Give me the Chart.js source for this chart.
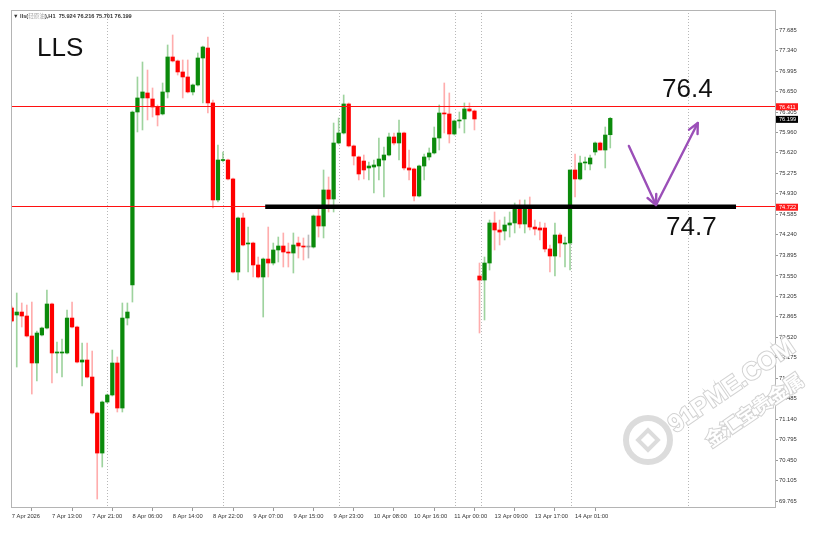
<!DOCTYPE html>
<html><head><meta charset="utf-8">
<script src="https://cdn.jsdelivr.net/npm/chart.js@4.4.1/dist/chart.umd.min.js"></script>
<style>html,body{margin:0;padding:0;background:#fff;overflow:hidden}canvas{display:block}</style>
</head><body>
<canvas id="c" width="822" height="534" style="width:822px;height:534px"></canvas>
<script>
// ---- DATA (LLS, H1) ----
const opens = [73.011,72.893,72.943,72.876,72.540,72.086,72.557,72.674,73.078,72.254,72.254,72.254,72.842,72.691,72.102,72.136,71.850,71.245,70.572,71.430,71.548,72.086,71.329,72.842,73.397,76.306,76.542,76.626,76.525,76.390,76.273,76.643,77.231,77.164,76.979,76.895,76.643,76.760,77.214,77.382,76.458,74.827,75.490,75.499,75.180,73.616,74.524,74.087,74.103,73.734,73.532,73.834,73.767,73.986,74.053,73.952,73.935,74.103,74.053,74.036,74.036,74.558,74.389,74.995,74.843,75.785,75.953,76.441,75.735,75.550,75.482,75.365,75.381,75.398,75.499,75.583,75.886,75.785,75.953,75.365,75.348,74.894,75.398,75.550,75.617,75.869,76.289,76.273,75.936,76.155,76.189,76.357,76.323,73.549,73.481,73.767,74.440,74.322,74.305,74.406,74.440,74.675,74.423,74.675,74.372,74.356,74.356,74.003,73.885,74.238,74.087,74.103,75.331,75.180,75.449,75.432,75.634,75.785,75.667,75.924];
const highs = [73.044,73.263,73.095,73.061,73.111,72.624,72.691,73.313,73.095,72.439,72.489,72.977,73.111,72.708,72.422,72.422,72.287,71.262,71.447,71.564,72.304,72.187,73.095,73.095,76.323,76.895,77.147,77.012,76.710,76.424,76.794,77.433,77.601,77.181,77.181,77.181,76.777,77.298,77.416,77.567,76.508,75.751,75.634,75.516,75.196,74.541,74.608,74.372,74.120,73.868,73.851,74.372,74.103,74.204,74.272,74.103,74.272,74.204,74.188,74.238,74.574,74.709,75.331,75.213,76.121,76.205,76.592,76.458,75.751,75.566,75.583,75.466,75.499,75.869,75.718,75.953,75.953,76.172,75.970,75.667,75.365,75.415,75.600,75.701,76.054,76.424,76.794,76.626,76.172,76.306,76.458,76.458,76.340,73.767,73.868,74.490,74.625,74.490,74.541,74.625,74.776,74.827,74.827,74.877,74.490,74.457,74.440,74.070,74.440,74.272,74.204,75.331,75.600,75.566,75.550,75.583,75.802,75.802,76.054,76.216];
const lows = [72.775,72.018,72.691,72.523,71.564,71.783,72.540,72.657,71.749,71.918,71.850,72.237,72.674,72.086,71.699,71.833,71.228,69.799,70.337,71.413,71.531,71.262,71.262,72.725,73.111,75.970,76.004,76.172,76.222,76.071,76.256,76.542,77.147,76.928,76.542,76.626,76.592,76.743,76.458,76.289,74.692,74.793,75.466,75.163,73.599,73.481,74.053,73.616,73.532,73.515,72.859,73.532,73.734,73.784,73.700,73.700,73.599,73.851,73.818,73.851,74.019,74.204,74.188,74.625,74.625,75.768,75.936,75.718,75.415,75.163,75.180,75.163,74.944,75.163,74.877,75.566,75.751,75.499,75.331,75.163,74.810,74.877,75.163,75.499,75.600,75.667,75.953,75.785,75.919,76.037,75.953,76.306,76.004,72.590,72.809,73.649,73.986,74.070,74.154,74.204,74.272,74.356,74.272,74.322,74.238,74.154,73.952,73.616,73.549,73.868,73.700,73.649,74.877,75.163,75.331,75.331,75.583,75.667,75.365,75.701];
const closes = [72.792,72.943,72.876,72.540,72.086,72.590,72.674,73.078,72.254,72.271,72.271,72.842,72.691,72.102,72.136,71.850,71.245,70.572,71.430,71.548,72.086,71.329,72.842,72.943,76.306,76.542,76.643,76.542,76.390,76.256,76.643,77.231,77.164,76.979,76.895,76.643,76.760,77.214,77.399,76.458,74.827,75.499,75.505,75.180,73.616,74.524,74.070,74.103,73.734,73.532,73.834,73.767,73.986,74.053,73.952,73.935,74.070,74.053,74.036,74.036,74.558,74.389,74.995,74.843,75.785,75.953,76.441,75.735,75.566,75.264,75.331,75.398,75.415,75.516,75.583,75.886,75.785,75.953,75.365,75.331,74.894,75.398,75.550,75.617,75.869,76.289,76.273,75.936,76.155,76.172,76.357,76.323,76.189,73.481,73.767,74.440,74.322,74.288,74.406,74.440,74.675,74.423,74.675,74.372,74.339,74.322,74.003,73.885,74.238,74.103,74.103,75.331,75.180,75.449,75.466,75.533,75.785,75.667,75.919,76.199];

const xTickBars = [0,8,16,24,32,40,48,56,64,72,80,88,96,104,112];
const xTickLabels = ["7 Apr 2026","7 Apr 13:00","7 Apr 21:00","8 Apr 06:00","8 Apr 14:00","8 Apr 22:00","9 Apr 07:00","9 Apr 15:00","9 Apr 23:00","10 Apr 08:00","10 Apr 16:00","11 Apr 00:00","13 Apr 09:00","13 Apr 17:00","14 Apr 01:00"];
const yTickValues = [77.685,77.340,76.995,76.650,76.305,75.960,75.620,75.275,74.930,74.585,74.240,73.895,73.550,73.205,72.865,72.520,72.175,71.830,71.485,71.140,70.795,70.450,70.105,69.765];
const yTickLabels = ["77.685","77.340","76.995","76.650","76.305","75.960","75.620","75.275","74.930","74.585","74.240","73.895","73.550","73.205","72.865","72.520","72.175","71.830","71.485","71.140","70.795","70.450","70.105","69.765"];

const levels = [76.411, 74.722];
const levelLabels = ["76.411", "74.722"];
const lastPrice = 76.199;
const lastPriceLabel = "76.199";
const separators = [18.95, 42, 65.1, 88.15, 93.3, 111.2, 134.5];
const supportLine = [50.4, 144, 74.722];
const arrowPath = [[122.7, 75.735], [128.1, 74.742], [136.4, 76.121]];
const targetTexts = ["76.4", "74.7"];
const titleText = "LLS";
const headerParts = ["\u25BC lls(", "\u8F7B\u539F\u6CB9", "),H1  75.924 76.216 75.701 76.199"];

// ---- BUILD ----
const UP = '#0b8a0b', DN = '#ff0000', FLAT = '#9a9a9a';
const WUP = 'rgba(0,140,0,0.38)', WDN = 'rgba(255,0,0,0.32)', WFLAT = 'rgba(120,120,120,0.5)';
const dir = closes.map((c,i)=> c>opens[i] ? 1 : (c<opens[i] ? -1 : 0));
const wickData = highs.map((h,i)=>({x:i, y:[lows[i], h]}));
const bodyData = opens.map((o,i)=>({x:i, y:[Math.min(o,closes[i]), Math.max(o,closes[i])]}));

const overlay = {
  id:'overlay',
  beforeDatasetsDraw(chart){
    const {ctx, chartArea:a, scales:{x}} = chart;
    ctx.save();
    ctx.strokeStyle = '#b8b8b8'; ctx.lineWidth = 1; ctx.setLineDash([1,2]);
    separators.forEach(s=>{
      const px = Math.round(x.getPixelForValue(s)) + 0.5;
      ctx.beginPath(); ctx.moveTo(px, a.top); ctx.lineTo(px, a.bottom); ctx.stroke();
    });
    ctx.restore();
  },
  afterDatasetsDraw(chart){
    const {ctx, chartArea:a, scales:{x,y}} = chart;
    ctx.save();
    // red horizontal levels
    ctx.strokeStyle = '#ff1010'; ctx.lineWidth = 1;
    levels.forEach(l=>{
      const py = Math.round(y.getPixelForValue(l)) + 0.5;
      ctx.beginPath(); ctx.moveTo(a.left, py); ctx.lineTo(a.right, py); ctx.stroke();
    });
    // black support line
    const sy = y.getPixelForValue(supportLine[2]) + 0.5;
    ctx.strokeStyle = '#000'; ctx.lineWidth = 4.5;
    ctx.beginPath(); ctx.moveTo(x.getPixelForValue(supportLine[0]), sy); ctx.lineTo(x.getPixelForValue(supportLine[1]), sy); ctx.stroke();
    // purple arrows
    const pts = arrowPath.map(p=>[x.getPixelForValue(p[0]), y.getPixelForValue(p[1])]);
    ctx.strokeStyle = '#9b4fb8'; ctx.lineWidth = 2.4; ctx.lineCap = 'round'; ctx.lineJoin = 'round';
    ctx.beginPath(); ctx.moveTo(pts[0][0], pts[0][1]); ctx.lineTo(pts[1][0], pts[1][1]); ctx.lineTo(pts[2][0], pts[2][1]); ctx.stroke();
    const head = (p0, p1) => {
      const ang = Math.atan2(p1[1]-p0[1], p1[0]-p0[0]);
      const L = 11, w = 0.45;
      ctx.beginPath();
      ctx.moveTo(p1[0] - L*Math.cos(ang-w), p1[1] - L*Math.sin(ang-w));
      ctx.lineTo(p1[0], p1[1]);
      ctx.lineTo(p1[0] - L*Math.cos(ang+w), p1[1] - L*Math.sin(ang+w));
      ctx.stroke();
    };
    head(pts[0], pts[1]); head(pts[1], pts[2]);
    // texts
    ctx.fillStyle = '#111';
    ctx.font = '26px "Liberation Sans", Arial, sans-serif';
    ctx.textBaseline = 'alphabetic'; ctx.textAlign = 'left';
    ctx.fillText(titleText, 37, 56);
    const y1 = y.getPixelForValue(levels[0]);
    const y2 = y.getPixelForValue(levels[1]);
    ctx.fillText(targetTexts[0], 662, y1 - 9);
    ctx.fillText(targetTexts[1], 666, y2 + 29);
    ctx.restore();
  },
  afterDraw(chart){
    const {ctx, chartArea:a, scales:{y}} = chart;
    ctx.save();
    // frame
    ctx.strokeStyle = '#b4b4b4'; ctx.lineWidth = 1;
    ctx.strokeRect(a.left + 0.5, a.top + 0.5, a.right - a.left, a.bottom - a.top - 1);
    // price boxes on axis
    ctx.font = '5.6px "Liberation Sans", Arial, sans-serif';
    ctx.textBaseline = 'middle'; ctx.textAlign = 'left';
    const box = (val, txt, bg) => {
      const py = y.getPixelForValue(val) + 1;
      ctx.fillStyle = bg; ctx.fillRect(a.right + 1, py - 3.5, 22, 7);
      ctx.fillStyle = '#fff'; ctx.fillText(txt, a.right + 4, py + 0.3);
    };
    box(levels[0], levelLabels[0], '#ff1a1a');
    box(levels[1], levelLabels[1], '#ff1a1a');
    box(lastPrice, lastPriceLabel, '#000');
    // header
    ctx.font = 'bold 5.6px "Liberation Sans", Arial, sans-serif';
    ctx.textBaseline = 'alphabetic';
    let hx = 13;
    const hy = 17.5;
    ctx.fillStyle = '#333'; ctx.fillText(headerParts[0], hx, hy); hx += ctx.measureText(headerParts[0]).width;
    ctx.font = '5.6px "Noto Sans CJK SC", sans-serif';
    ctx.fillStyle = '#a8a8a8'; ctx.fillText(headerParts[1], hx, hy); hx += ctx.measureText(headerParts[1]).width;
    ctx.font = 'bold 5.6px "Liberation Sans", Arial, sans-serif';
    ctx.fillStyle = '#333'; ctx.fillText(headerParts[2], hx, hy);
    // watermark (white letters with soft gray outline)
    ctx.strokeStyle = '#dcdcdc'; ctx.lineWidth = 6;
    ctx.beginPath(); ctx.arc(648, 440, 22, 0, Math.PI*2); ctx.stroke();
    ctx.save(); ctx.translate(648, 440); ctx.rotate(Math.PI/4);
    ctx.lineWidth = 4; ctx.strokeRect(-7, -7, 14, 14); ctx.restore();
    ctx.save(); ctx.translate(736, 392); ctx.rotate(-0.6);
    ctx.fillStyle = '#ffffff'; ctx.strokeStyle = '#d2d2d2'; ctx.lineWidth = 2;
    ctx.font = 'bold 25px "Liberation Sans", Arial, sans-serif';
    ctx.textAlign = 'center';
    ctx.strokeText('91PME.COM', 0, 0); ctx.fillText('91PME.COM', 0, 0);
    ctx.font = 'bold 19px "Noto Sans CJK SC", sans-serif';
    ctx.strokeText('\u91D1\u6C47\u5B9D\u8D35\u91D1\u5C5E', 5, 32); ctx.fillText('\u91D1\u6C47\u5B9D\u8D35\u91D1\u5C5E', 5, 32);
    ctx.restore();
    ctx.restore();
  }
};

new Chart(document.getElementById('c'), {
  type: 'bar',
  data: {
    datasets: [
      { label:'wick', data: wickData, grouped:false, barThickness:1, borderWidth:0,
        backgroundColor: dir.map(d=> d>0 ? WUP : (d<0 ? WDN : WFLAT)), order: 2 },
      { label:'body', data: bodyData, grouped:false, barThickness:3.6, borderWidth:0, minBarLength:1,
        backgroundColor: dir.map(d=> d>0 ? UP : (d<0 ? DN : FLAT)), order: 1 }
    ]
  },
  options: {
    responsive:false, animation:false, devicePixelRatio:1,
    layout:{ padding:{ left:11, top:10, right:0, bottom:0 } },
    plugins:{ legend:{display:false}, tooltip:{enabled:false} },
    scales:{
      x:{ type:'linear', min:-0.14, max:151.75, offset:false,
          grid:{ drawOnChartArea:false, drawTicks:true, tickLength:3, color:'#999' },
          border:{ display:false },
          afterBuildTicks(s){ s.ticks = xTickBars.map(v=>({value:v})); },
          afterFit(s){ s.height = 26; },
          ticks:{ autoSkip:false, maxRotation:0, minRotation:0, align:'start', padding:2,
                  color:'#333', font:{ family:'"Liberation Sans", Arial, sans-serif', size:5.8 },
                  callback:(v,i)=> xTickLabels[i] }
      },
      y:{ type:'linear', position:'right', min:69.648, max:78.021,
          grid:{ drawOnChartArea:false, drawTicks:true, tickLength:3, color:'#999' },
          border:{ display:false },
          afterBuildTicks(s){ s.ticks = yTickValues.map(v=>({value:v})); },
          afterFit(s){ s.width = 47; },
          ticks:{ autoSkip:false, padding:1, color:'#333',
                  font:{ family:'"Liberation Sans", Arial, sans-serif', size:5.8 },
                  callback:(v,i)=> yTickLabels[i] }
      }
    }
  },
  plugins:[overlay]
});
</script>
</body></html>
